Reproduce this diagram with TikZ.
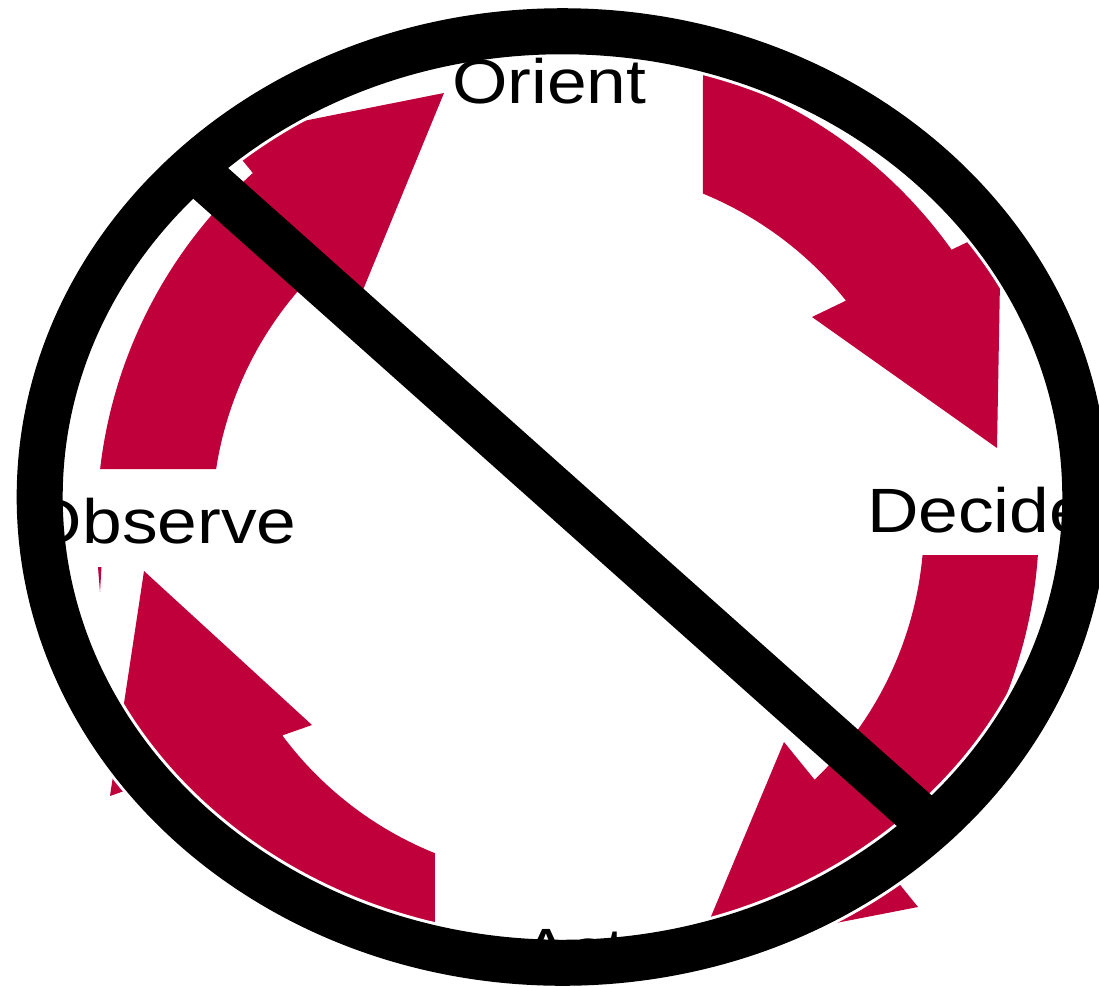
\documentclass[tikz,border=0pt]{standalone}
\usepackage{fontspec}
\setmainfont[FakeStretch=1.14]{Liberation Sans}
\definecolor{oodared}{RGB}{191,0,59}
\tikzset{
  lbl/.style={inner sep=0pt, outer sep=0pt, anchor=base west, text=black, font=\fontsize{17.8}{20}\selectfont},
  redarrow/.style={fill=oodared, draw=none},
  ringhalo/.style={draw=white, line width=0.52cm},
  ring/.style={draw=black, line width=0.46cm},
  slash/.style={draw=black, line width=0.46cm, line cap=butt}
}
\begin{document}
\begin{tikzpicture}[x=0.01cm, y=-0.01cm]
\useasboundingbox (0,0) rectangle (1099,987);
% loop centre for the arrows
\def\cx{568}\def\cy{523}\def\ro{471}\def\ri{356}
% Orient -> Decide
\fill[redarrow] (703,71.8)
  -- plot[domain=-73.34:-35.47, samples=60] ({\cx+\ro*cos(\x)},{\cy+\ro*sin(\x)})
  -- (1001,226) -- (997,448) -- (812,317)
  -- plot[domain=-38.66:-67.72, samples=60] ({\cx+\ri*cos(\x)},{\cy+\ri*sin(\x)})
  -- cycle;
% Decide -> Act
\fill[redarrow] (1037.9,555)
  -- plot[domain=3.90:47.31, samples=60] ({\cx+\ro*cos(\x)},{\cy+\ro*sin(\x)})
  -- (918,907) -- (697,950) -- (784,742)
  -- plot[domain=46.15:5.16, samples=60] ({\cx+\ri*cos(\x)},{\cy+\ri*sin(\x)})
  -- cycle;
% Act -> Observe
\fill[redarrow] (435,974.8)
  -- plot[domain=106.40:147.67, samples=60] ({\cx+\ro*cos(\x)},{\cy+\ro*sin(\x)})
  -- (110,796) -- (144,571) -- (312,725)
  -- plot[domain=143.37:111.94, samples=60] ({\cx+\ri*cos(\x)},{\cy+\ri*sin(\x)})
  -- cycle;
% Observe -> Orient
\fill[redarrow] (100.1,469)
  -- plot[domain=186.58:228.0, samples=60] ({\cx+\ro*cos(\x)},{\cy+\ro*sin(\x)})
  -- (223.3,136.9) -- (444,93) -- (358.4,301.1)
  -- plot[domain=227.2:188.72, samples=60] ({\cx+\ri*cos(\x)},{\cy+\ri*sin(\x)})
  -- cycle;
% small sliver
\fill[redarrow] (98,567) -- (101.5,567) -- (100,592) -- cycle;
% prohibition sign: halo first
\coordinate (ringc) at (562.5,497);
\coordinate (slashA) at (193.0,167.6);
\coordinate (slashB) at (931.9,826.4);
\path[ringhalo] (ringc) ellipse [x radius=5.225cm, y radius=4.655cm];
% labels
\node[lbl] (orient) at (452,103) {Orient};
\node[lbl] (decide) at (867,532) {Decide};
\node[lbl] (act) at (522,972) {Act};
\node[lbl] (observe) at (27,543) {Observe};
% ring and slash
\path[ring] (ringc) ellipse [x radius=5.225cm, y radius=4.655cm];
\draw[slash] (slashA) -- (slashB);
\end{tikzpicture}
\end{document}
